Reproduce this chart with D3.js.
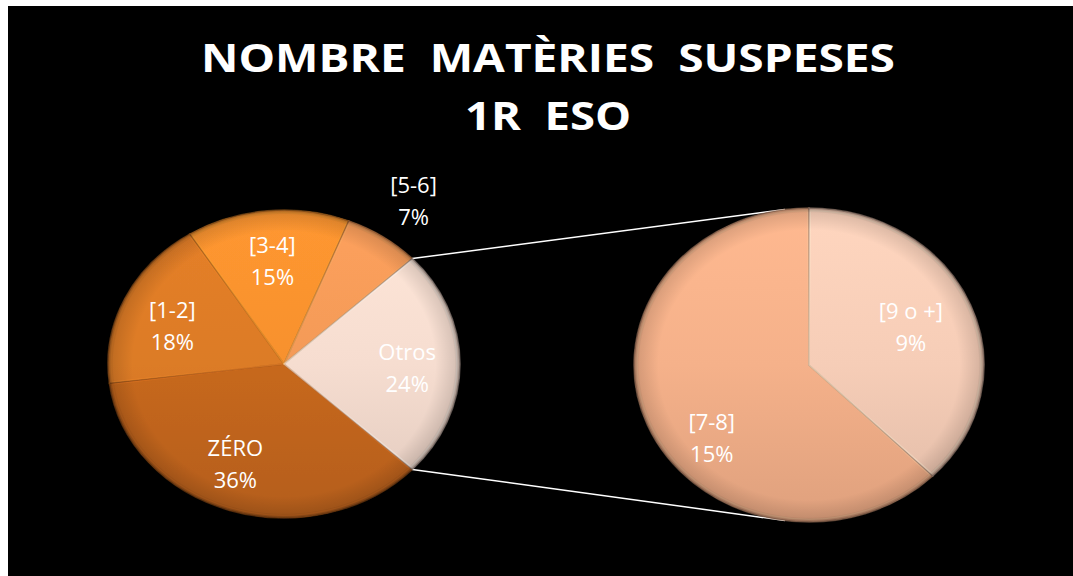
<!DOCTYPE html>
<html><head><meta charset="utf-8">
<script src="https://cdn.jsdelivr.net/npm/d3@7"></script>
<style>html,body{margin:0;padding:0;background:#fff;}svg{display:block;}text.t{white-space:pre;}</style>
</head><body>
<svg id="chart" width="1073" height="576"></svg>
<script>
// ---- data ----
const titleLines = ["NOMBRE  MATÈRIES  SUSPESES", "1R  ESO"];
const mainCategories = ["ZÉRO", "[1-2]", "[3-4]", "[5-6]", "Otros"];
const mainValues = [36, 18, 15, 7, 24];
const subCategories = ["[7-8]", "[9 o +]"];
const subValues = [15, 9];
const mainColors = ["#c7681f", "#dc7b27", "#f7912e", "#f39a58", "#f6ddd0"];
const subColors = ["#f5b18a", "#f6cdb7"];

const svg = d3.select("#chart");
const defs = svg.append("defs");

svg.append("rect").attr("x", 8).attr("y", 6).attr("width", 1065).attr("height", 570).attr("fill", "#000");

// title
const title = svg.append("g").attr("font-family", "'Open Sans', sans-serif").attr("font-weight", 700)
  .attr("fill", "#fff").attr("text-anchor", "middle");
title.append("text").attr("class", "t").attr("xml:space", "preserve").attr("x", 548).attr("y", 72).attr("font-size", 40).attr("textLength", 694)
  .attr("lengthAdjust", "spacingAndGlyphs").text(titleLines[0]);
title.append("text").attr("class", "t").attr("xml:space", "preserve").attr("x", 548).attr("y", 130).attr("font-size", 40).attr("textLength", 166)
  .attr("lengthAdjust", "spacingAndGlyphs").text(titleLines[1]);

function shade(c, k) { return d3.color(c).darker(k).formatHex(); }
function light(c, k) { return d3.color(c).brighter(k).formatHex(); }

function makeGrad(id, color) {
  const g = defs.append("linearGradient").attr("id", id)
    .attr("gradientUnits", "userSpaceOnUse").attr("x1", 0).attr("y1", -180).attr("x2", 0).attr("y2", 180);
  g.append("stop").attr("offset", "0").attr("stop-color", light(color, 0.12));
  g.append("stop").attr("offset", "0.5").attr("stop-color", color);
  g.append("stop").attr("offset", "1").attr("stop-color", shade(color, 0.28));
}
const rim = defs.append("radialGradient").attr("id", "rim");
rim.append("stop").attr("offset", "0.86").attr("stop-color", "#000").attr("stop-opacity", 0);
rim.append("stop").attr("offset", "0.97").attr("stop-color", "#000").attr("stop-opacity", 0.12);
rim.append("stop").attr("offset", "1").attr("stop-color", "#000").attr("stop-opacity", 0.35);

const blur = defs.append("filter").attr("id", "soft").attr("x", "-5%").attr("y", "-5%").attr("width", "110%").attr("height", "110%");
blur.append("feGaussianBlur").attr("stdDeviation", 0.6);

// geometry
const L = { cx: 284, cy: 364, rx: 176, ry: 154 };
const R = { cx: 809, cy: 365, rx: 175, ry: 157 };
const deg = Math.PI / 180;

const otrosShare = mainValues[4] / d3.sum(mainValues);
const mainStart = Math.PI / 2 + otrosShare * Math.PI;
const pieMain = d3.pie().sort(null).startAngle(mainStart).endAngle(mainStart + 2 * Math.PI);
const mainArcs = pieMain(mainValues);
const subShare = subValues[1] / d3.sum(subValues);
const subStart = subShare * 2 * Math.PI;
const pieSub = d3.pie().sort(null).startAngle(subStart).endAngle(subStart + 2 * Math.PI);
const subArcs = pieSub(subValues);

function pt(P, a, f) { return [P.cx + P.rx * f * Math.sin(a), P.cy - P.ry * f * Math.cos(a)]; }

// connector lines (behind pies)
const otros = mainArcs[4];
const a1 = pt(L, otros.startAngle, 1), b1 = pt(R, -7.9 * deg, 1);
const a2 = pt(L, otros.endAngle, 1), b2 = pt(R, Math.PI + 7.9 * deg, 1);
svg.append("line").attr("x1", a1[0]).attr("y1", a1[1]).attr("x2", b1[0]).attr("y2", b1[1]).attr("stroke", "#fff").attr("stroke-width", 1.5);
svg.append("line").attr("x1", a2[0]).attr("y1", a2[1]).attr("x2", b2[0]).attr("y2", b2[1]).attr("stroke", "#fff").attr("stroke-width", 1.5);

function drawPie(P, arcs, colors, cats, prefix, labelF, nudge) {
  const g = svg.append("g").attr("transform", `translate(${P.cx},${P.cy}) scale(1,${P.ry / P.rx})`);
  const arc = d3.arc().innerRadius(0).outerRadius(P.rx);
  arcs.forEach((d, i) => makeGrad(prefix + i, colors[i]));
  g.selectAll("path.s").data(arcs).join("path").attr("class", "s")
    .attr("d", arc).attr("fill", (d, i) => `url(#${prefix}${i})`)
    .attr("stroke", (d, i) => shade(colors[i], 1.3)).attr("stroke-opacity", 0.6).attr("stroke-width", 1.6)
    .attr("filter", "url(#soft)");
  g.selectAll("path.h").data(arcs).join("path").attr("class", "h")
    .attr("d", d3.arc().innerRadius(0).outerRadius(P.rx - 3).padAngle(0.014)).attr("fill", "none")
    .attr("stroke", (d, i) => light(colors[i], 0.5)).attr("stroke-opacity", 0.35).attr("stroke-width", 1.5);
  g.append("circle").attr("r", P.rx).attr("fill", "url(#rim)");
  const lg = svg.append("g").attr("font-family", "'Open Sans', sans-serif").attr("font-size", 22)
    .attr("fill", "#fff").attr("text-anchor", "middle");
  arcs.forEach((d, i) => {
    const m = (d.startAngle + d.endAngle) / 2 + nudge[i] * deg;
    const p = pt(P, m, labelF[i]);
    const pct = Math.round(d.value / d3.sum(mainValues) * 100) + "%";
    lg.append("text").attr("x", p[0]).attr("y", p[1] - 4).text(cats[i]);
    lg.append("text").attr("x", p[0]).attr("y", p[1] + 28).text(pct);
  });
}
drawPie(L, mainArcs, mainColors, mainCategories, "gm", [0.68, 0.69, 0.70, 1.31, 0.70], [6, -2, 0, 0, 0]);
drawPie(R, subArcs, subColors, subCategories, "gs", [0.71, 0.64], [-16, -2]);
</script>
</body></html>
